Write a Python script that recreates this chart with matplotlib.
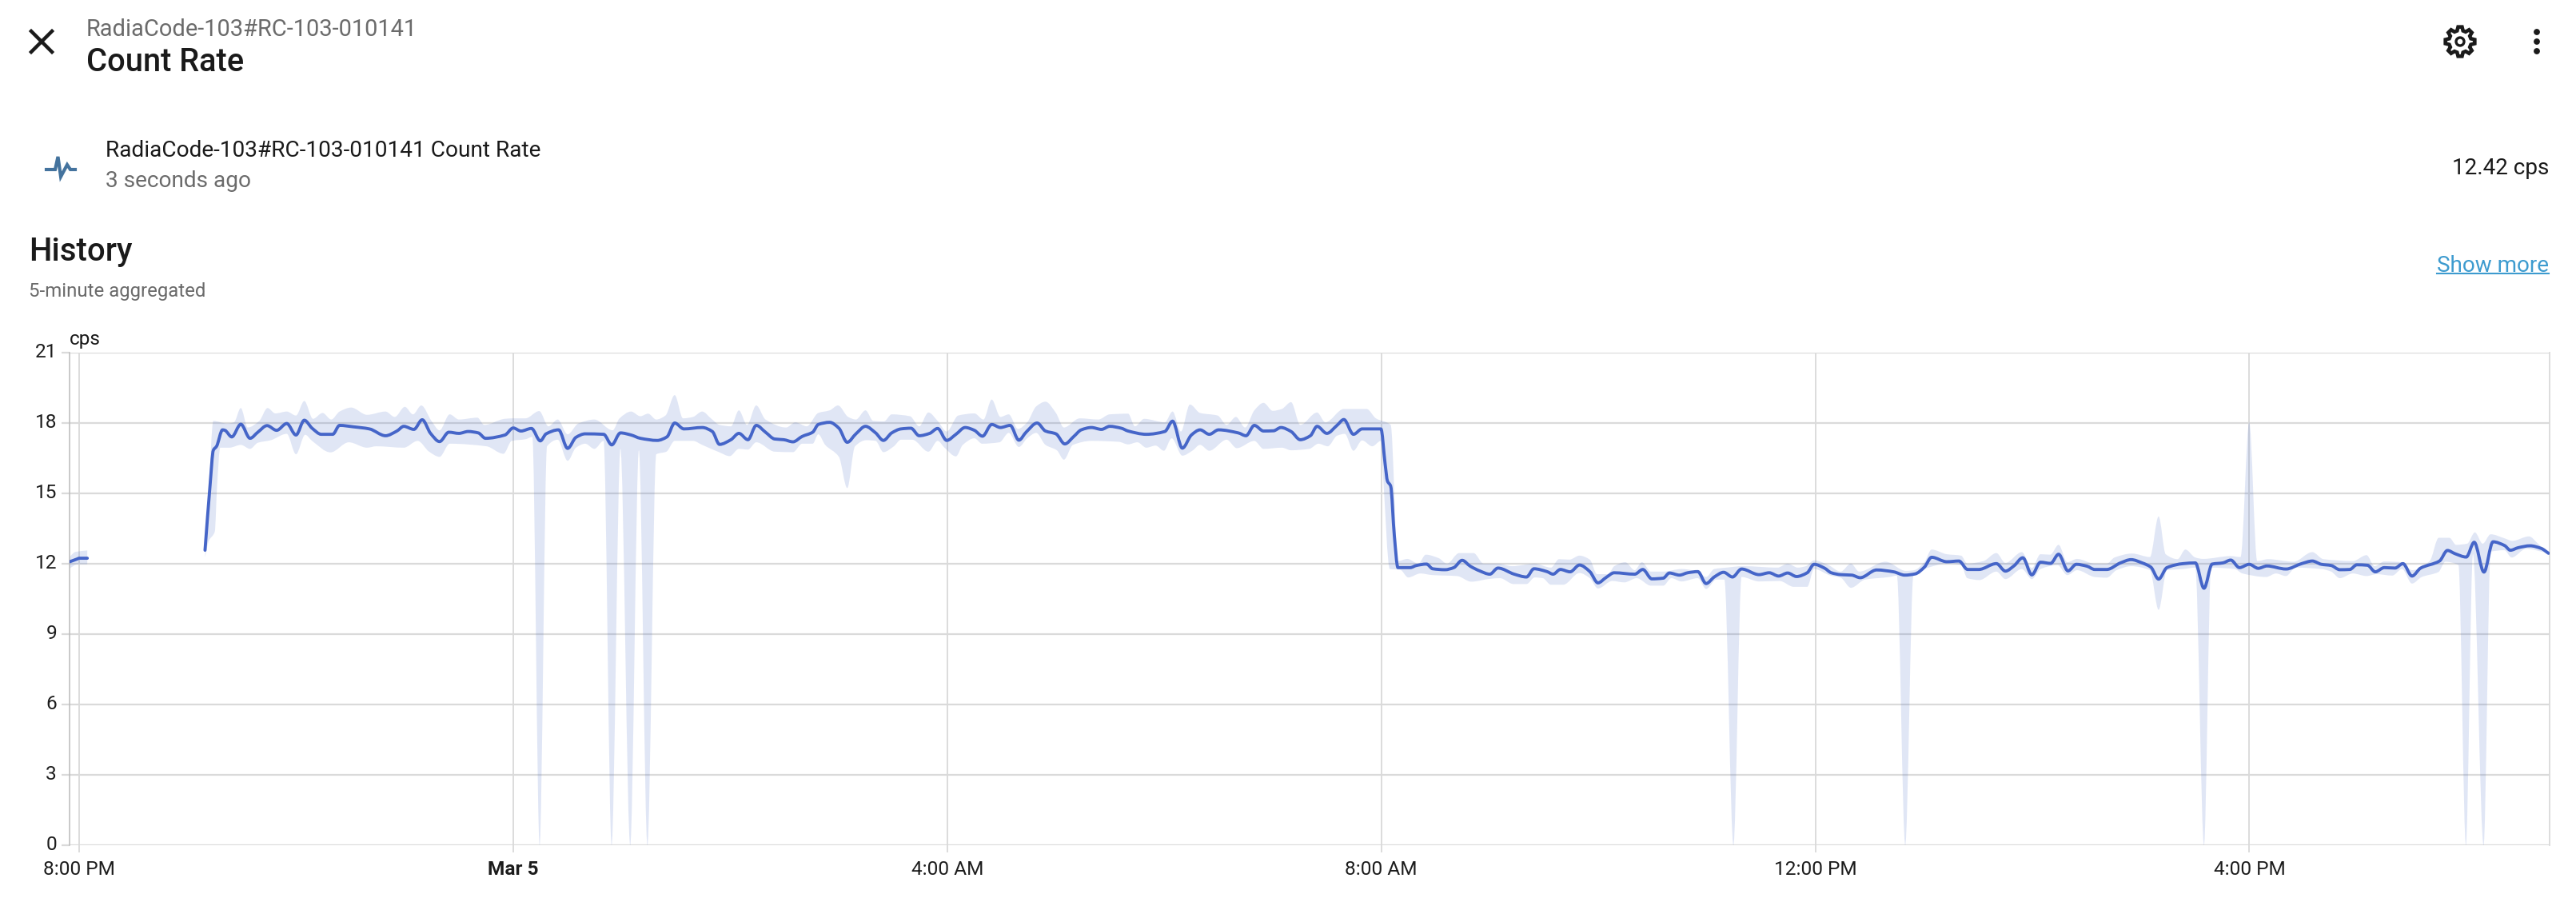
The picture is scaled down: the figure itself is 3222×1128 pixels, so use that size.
import numpy as np
import matplotlib
matplotlib.use("Agg")
import matplotlib.pyplot as plt
from matplotlib.path import Path
from matplotlib.patches import PathPatch, Circle
from matplotlib.transforms import ScaledTranslation

plt.rcParams['font.family'] = ['Roboto', 'DejaVu Sans']

# All times: minutes after 8:00 PM on Mar 4; all values: counts per second.
y_ticks = [0, 3, 6, 9, 12, 15, 18, 21]
x_ticks = [0, 240, 480, 720, 960, 1200]
x_labels = ['8:00 PM', 'Mar 5', '4:00 AM', '8:00 AM', '12:00 PM', '4:00 PM']

line_early = [(-5.2,12.08),(-1,12.2),(0,12.23),(4.5,12.23)]
upper_early = [(-5.2,12.3),(-2,12.5),(4.5,12.56)]
lower_early = [(-5.2,11.8),(-1,11.97),(4.5,11.97)]

line_night = [(69.6,12.57),(72.4,15.35),(74.2,16.83),(76,17),(79.3,17.7),(80.6,17.68),(84.4,17.4),(89.4,17.94),(94.5,17.34),(98.8,17.6),(103.9,17.88),(109.2,17.68),(114.8,17.97),(119.9,17.48),(124.5,18.11),(128.8,17.77),(133.9,17.51),(140.2,17.51),(144,17.89),(151.6,17.83),(160.5,17.74),(169.4,17.45),(175.7,17.65),(179.5,17.85),(185.1,17.72),(189.7,18.13),(194.3,17.55),(199.3,17.2),(204.4,17.6),(210,17.55),(215.1,17.63),(220.7,17.57),(224.7,17.34),(235.4,17.48),(240,17.78),(244.3,17.65),(250.1,17.76),(255,17.23),(258.2,17.53),(265.1,17.7),(270.1,16.91),(274.7,17.38),(279.8,17.53),(290,17.51),(294.5,17.06),(299.3,17.57),(305.2,17.48),(310.3,17.34),(319.6,17.25),(325,17.4),(329.3,17.99),(334.4,17.74),(344.5,17.8),(350.1,17.63)]
line_morning = [(354.1,17.08),(360.4,17.28),(364.8,17.55),(369.8,17.28),(374.4,17.89),(379.5,17.6),(384.6,17.31),(389.6,17.28),(394.7,17.19),(399.8,17.42),(405.6,17.6),(408.7,17.93),(415,18.02),(420.1,17.77),(424.7,17.17),(429.5,17.53),(434.8,17.85),(440.4,17.57),(444.7,17.25),(449.3,17.57),(454.4,17.74),(459.9,17.77),(464.5,17.45),(470.3,17.55),(474.7,17.76),(479.7,17.25),(484.8,17.51),(489.9,17.8),(495,17.68),(499.5,17.43),(504.6,17.93),(509.4,17.8),(514.8,17.89),(519.6,17.26),(523.6,17.6),(529.7,17.99),(534.3,17.65),(540.1,17.53),(545,17.1),(550,17.42),(554.1,17.7),(559.7,17.8),(565.3,17.72),(569.8,17.85),(576.2,17.77),(580,17.65),(590.1,17.51),(600.3,17.63),(604.6,18.07),(610,16.92),(615,17.48),(619.8,17.7),(624.9,17.51),(630,17.7),(640.9,17.57),(645.2,17.45),(649.8,17.89),(654.9,17.65),(660.4,17.66),(664.5,17.8),(670.1,17.63),(675.2,17.28),(680.8,17.45),(684.5,17.85),(689.9,17.55),(695.5,17.89),(699.3,18.14),(704.6,17.51),(709.4,17.74),(719.8,17.74),(722.1,16.26),(723.4,15.52),(725.2,15.3),(727.2,13.2)]
line_midday = [(729.2,11.83),(736,11.83),(739.4,11.92),(745,11.98),(748.4,11.78),(755.2,11.74),(760.1,11.83),(764.7,12.14),(769.2,11.89),(774.4,11.69),(780,11.55),(784.5,11.81),(793.5,11.55),(800.3,11.43),(804.4,11.78),(811.6,11.66),(815,11.55),(819,11.75),(824.4,11.65),(829.6,11.94),(835.3,11.66),(839.8,11.18),(844.3,11.41),(848.8,11.61),(860.1,11.55),(864.6,11.75),(869.6,11.35),(875.9,11.38),(879.3,11.6),(884.9,11.51),(889.4,11.61),(895,11.66),(899.6,11.15),(904.1,11.43),(909.3,11.63),(914.2,11.43),(919.2,11.77),(928.9,11.53),(934.5,11.61),(939.7,11.47),(944.7,11.6),(949.6,11.45),(955.5,11.61),(959.3,11.97),(965,11.81),(968.8,11.61),(974,11.53),(980.1,11.51),(984.8,11.4),(993.9,11.73),(1003.3,11.65),(1009.4,11.51),(1015.1,11.56),(1020.3,11.85),(1024.3,12.27),(1032.7,12.08)]
line_evening = [(1039.4,12.11),(1044.2,11.75),(1050.3,11.75),(1060.1,12),(1065.1,11.68),(1069.9,11.91),(1074.7,12.25),(1079.7,11.52),(1084.5,12.06),(1090.1,12.01),(1094.5,12.4),(1099.7,11.69),(1104.3,11.97),(1110.2,11.89),(1114.5,11.75),(1121.1,11.75),(1128.7,12.03),(1134.6,12.17),(1140.7,12.03),(1145.5,11.85),(1149.8,11.34),(1154.4,11.83),(1163.5,12),(1170.1,12.03),(1174.9,10.95),(1179.4,11.98),(1185.3,12.03),(1189.7,12.15),(1194.5,11.83),(1199.9,11.97),(1204.9,11.8),(1209.7,11.9),(1220.2,11.77),(1228.9,12),(1234.8,12.11),(1239.8,11.97),(1245.2,11.92),(1250,11.74),(1255.5,11.75),(1259.4,11.95),(1265.3,11.93),(1269.6,11.65),(1274.6,11.83),(1280.5,11.81),(1284.9,12),(1289.9,11.47),(1294.7,11.81),(1305.1,12.11),(1309.5,12.56),(1313.8,12.42),(1319.9,12.28),(1324.3,12.91),(1329.7,11.64),(1334.7,12.93),(1341.1,12.77),(1344.3,12.57),(1348.7,12.68),(1355.2,12.76),(1361.3,12.65),(1365.4,12.44)]

upper_night = [(69.6,12.26),(71.5,14.8),(74.2,18.08),(81.8,17.97),(85.6,18.02),(89.4,18.63),(93.2,17.8),(99.6,18.08),(104.2,18.63),(108.5,18.4),(114.8,18.48),(119.9,18.31),(124.5,18.93),(129.3,18.17),(134.6,18.42),(139.4,18.14),(144,18.48),(150.4,18.65),(159.2,18.34),(169.4,18.48),(174.5,18.25),(180.1,18.68),(184.6,18.36),(189.2,18.74),(194.8,18.08),(199.3,17.68),(204.9,18.36),(210,18.14),(220.2,18.22),(224,17.91),(235.4,18.17),(240.5,18.19),(246.8,18.19),(254.4,18.5),(259.5,17.85),(264.6,18.14),(270.1,17.51),(276,17.97),(284.9,18.14),(295,17.68),(298.8,18.19),(305.2,18.48),(310.3,18.28),(314.6,18.39),(319.1,18.14),(324.2,18.31),(329.3,19.18),(333.9,18.19),(339.4,18.25),(344.5,18.48),(349.6,18.17)]
upper_morning = [(354.1,17.91),(360.4,17.85),(364.8,18.53),(369.3,17.91),(374.4,18.74),(379.5,18.14),(390.9,17.8),(396,18.02),(402.3,17.85),(408.7,18.42),(415,18.53),(419.6,18.74),(425.2,18.25),(429.5,18.14),(434.8,18.53),(439.1,18.08),(445,18.06),(449.3,18.36),(459.4,18.28),(464.5,17.85),(469.6,18.44),(474.7,18.08),(479.7,17.63),(486.1,18.31),(495,18.4),(500,18.14),(504.6,18.99),(509.4,18.25),(514,18.36),(519.1,17.74),(524.2,18.02),(529.2,18.7),(534.3,18.9),(540.1,18.42),(544.5,17.8),(553.3,18.19),(563.5,18.14),(569.8,18.36),(580,18.39),(583.8,17.85),(588.9,18.17),(600.3,18.02),(604.6,18.48),(609.2,17.63),(614.2,18.78),(619.8,18.42),(629.5,18.31),(634.5,17.91),(639.6,18.25),(644.7,17.8),(649.8,18.53),(654.9,18.85),(660,18.51),(665,18.59),(670.1,18.88),(675.2,17.91),(684.5,18.44),(689.1,18.02),(699.3,18.59),(711.9,18.59),(717,18.19),(725.2,17.91)]
upper_midday = [(729.2,12.11),(734.4,12.2),(740.5,12),(744.6,12.38),(751.8,12.23),(756.3,12),(763.1,12.45),(771,12.45),(776.6,12),(784.5,12),(792.4,11.89),(804.8,12),(813.8,11.83),(818.3,12.19),(824,12.17),(829.6,12.34),(835.3,12.17),(839.3,11.55),(845.4,11.55),(848.8,11.89),(854.9,12.06),(860.1,11.72),(864.1,12.06),(869.1,11.66),(875.9,11.66),(886,11.77),(895,11.66),(899.6,11.43),(904.1,11.77),(910.9,11.83),(919.9,11.89),(939.1,11.83),(944.7,12),(950.3,11.83),(954.8,11.89),(959.3,12.14),(967.2,11.94),(974,11.66),(979.7,12),(984.2,11.66),(998.8,12.08),(1010.1,11.69),(1014.6,11.72),(1020.3,12.06),(1024.3,12.6),(1032.7,12.4),(1040.6,12.34),(1044,12),(1053,12.11)]
upper_evening = [(1060.1,12.45),(1065.1,12.03),(1074.2,12.49),(1079.7,11.81),(1084.5,12.4),(1089.9,12.38),(1094.5,12.8),(1099.3,12.06),(1104.7,12.2),(1114.5,12),(1121.1,12),(1125.4,12.26),(1135.2,12.43),(1145,12.28),(1149.8,14.01),(1153.7,12.4),(1160.3,12.19),(1164.6,12.6),(1170.1,12.26),(1174.4,12.2),(1189.7,12.32),(1195.1,12.28),(1199.9,18.02),(1204.3,12.11),(1210.4,12.19),(1224.5,12.08),(1234.8,12.49),(1240.9,12.19),(1257.2,12.11),(1264.8,12.36),(1269.2,11.89),(1274.6,12.09),(1284.4,12.06),(1289.9,11.72),(1299.7,12.11),(1304.7,13.1),(1310.6,13.1),(1314.3,12.8),(1320.4,12.85),(1324.7,13.33),(1329,12.85),(1333.4,13.25),(1341,13.08),(1345.4,12.97),(1354.6,13.16),(1359.6,12.85),(1365.4,12.44)]

lower_night = [(69.6,12.26),(71.7,12.97),(75,13.36),(76.3,15.35),(78,16.94),(83.1,16.94),(89.4,17.06),(94.5,16.89),(98.8,17.15),(106,17.26),(114.8,17.53),(119.9,16.66),(125,17.49),(128.8,17.23),(139,16.74),(149.1,17.17),(159.2,16.94),(164.3,17),(179.5,16.94),(187.2,17.23),(193.5,16.77),(199.3,16.55),(204.9,17.11),(225.2,17),(234.6,16.68),(239.2,17.23),(246.8,17.3),(250.6,17.4),(254.6,0),(258.7,17),(264.6,17.28),(270.1,16.38),(274.7,16.94),(279.8,17.11),(284.9,16.89),(290,17.23),(294.4,0),(299.3,16.89),(304.7,0),(309.5,16.83),(314.2,0),(319.1,16.66),(324.7,16.77),(329.3,17.23),(339.4,17.23),(344.5,17.06)]
lower_morning = [(354.1,16.74),(359.7,16.58),(364.8,16.89),(369.8,16.86),(374.4,17.17),(384.6,16.77),(394.7,16.75),(399.8,17.11),(405.6,17.11),(408.7,17.51),(412.5,17.06),(420.1,16.55),(424.7,15.22),(429,17),(435.3,17.26),(440.4,17.23),(444.7,16.75),(450.5,17),(454.4,17.28),(460.7,17.28),(469.6,16.77),(474.7,17.23),(478.5,16.94),(484.8,16.57),(488.6,17.06),(495,17.34),(499.3,17.11),(508.9,17.17),(514,17.57),(519.6,16.97),(524.2,17.34),(529.2,17.57),(534.3,17.06),(540.6,16.83),(544.5,16.43),(549.5,17.06),(559.7,17.23),(574.9,17.19),(580,17.08),(585.1,17.17),(590.1,16.94),(595.2,17.03),(599.8,16.81),(604.1,17.34),(610,16.6),(615.5,16.81),(619.8,17.06),(624.9,16.81),(634.5,17.28),(640.1,16.92),(649.8,17.23),(654.9,16.89),(665,16.94),(670.1,16.83),(680.2,16.89),(685.3,17.11),(690.4,17),(695.5,17.45),(699.8,17.53),(704.6,16.81),(709.4,17.25),(715,17),(719.8,17.23),(720.8,16)]
lower_midday = [(724.7,11.77),(730.4,11.74),(734.9,11.41),(741.6,11.58),(748.4,11.51),(761.9,11.47),(769.8,11.23),(780,11.35),(785.6,11.38),(793.1,11.13),(800.3,11.13),(804.8,11.41),(809.3,11.38),(813.8,11.1),(820.6,11.1),(829.6,11.6),(835.3,11.38),(839.8,10.94),(847.7,11.26),(854.4,11.2),(861.2,11.38),(869.1,11.06),(875.9,11.06),(880.4,11.38),(886,11.24),(895,11.38),(899.6,10.92),(905.2,11.32),(909.7,11.32),(914.7,0),(919.2,11.43),(928.9,11.24),(940.2,11.26),(948.1,11.01),(955.5,11.01),(959.3,11.77),(968.4,11.49),(974,11.4),(979.7,10.97),(987.5,11.32),(1001.1,11.43),(1005.1,11.49),(1009.7,0),(1014.2,11.49),(1020.3,11.77),(1032.7,12),(1040.6,11.94),(1044,11.38),(1050.7,11.3)]
lower_evening = [(1060.1,11.66),(1065.1,11.34),(1074.2,11.77),(1079.7,11.34),(1084.5,11.77),(1093.9,11.94),(1099.3,11.51),(1104.7,11.72),(1114.5,11.43),(1121.1,11.4),(1126.5,11.72),(1134.6,11.89),(1145,11.72),(1149.8,10.03),(1154.4,11.72),(1163.5,11.77),(1170.1,11.83),(1174.9,0),(1178.8,11.83),(1191.9,11.77),(1196.2,11.58),(1209.3,11.43),(1214.7,11.58),(1220.2,11.47),(1225.6,11.83),(1239.8,11.77),(1245.2,11.66),(1250,11.38),(1257.2,11.58),(1264.8,11.47),(1270.3,11.55),(1279,11.49),(1284.4,11.77),(1289.9,11.15),(1295.3,11.43),(1304.5,11.64),(1308.4,12.08),(1315.6,11.94),(1319.7,0),(1323.6,12.4),(1329.5,0),(1333.4,12.51),(1341,12.57),(1345,12.26),(1353,12.63),(1365.4,12.44)]


def bezier_verts(points):
    """Vertices of a monotone cubic curve through the points."""
    x, y = np.array(points, float).T
    h = np.diff(x)
    s = np.diff(y) / h
    m = np.zeros_like(x)
    m[0], m[-1] = s[0], s[-1]
    for i in range(1, len(x) - 1):
        if s[i - 1] * s[i] > 0:
            m[i] = 2 * s[i - 1] * s[i] / (s[i - 1] + s[i])
    v = [(x[0], y[0])]
    for i in range(len(h)):
        v.append((x[i] + h[i] / 3, y[i] + m[i] * h[i] / 3))
        v.append((x[i + 1] - h[i] / 3, y[i + 1] - m[i + 1] * h[i] / 3))
        v.append((x[i + 1], y[i + 1]))
    return v


def line_path(points):
    v = bezier_verts(points)
    return Path(v, [Path.MOVETO] + [Path.CURVE4] * (len(v) - 1))


def band_path(upper, lower):
    u = bezier_verts(upper)
    l = bezier_verts(lower)[::-1]
    verts = u + l + [u[0]]
    codes = [Path.MOVETO] + [Path.CURVE4] * (len(u) - 1) + [Path.LINETO] + [Path.CURVE4] * (len(l) - 1) + [Path.CLOSEPOLY]
    return Path(verts, codes)


W, H = 3222, 1128
fig = plt.figure(figsize=(W / 100, H / 100), dpi=100, facecolor='white')
L, R, T, B = 87, 3189, 440.7, 1057
ax = fig.add_axes([L / W, 1 - B / H, (R - L) / W, (B - T) / H])
ax.set_xlim(-5.3, 1366)
ax.set_ylim(0, 21)

GRID = '#dadada'
ax.set_axisbelow(True)
ax.yaxis.grid(True, color=GRID, lw=1.6)
ax.xaxis.grid(True, color='#d6d6d6', lw=1.2)
ax.set_xticks(x_ticks)
ax.set_xticklabels(x_labels, fontsize=17.6, color='#1c1c1c')
ax.get_xticklabels()[1].set_fontweight('bold')
ax.set_yticks(y_ticks)
ax.set_yticklabels([str(v) for v in y_ticks], fontsize=17.6, color='#1c1c1c')
ax.tick_params(axis='x', length=6.5, width=1.2, color='#d6d6d6', pad=7)
ax.tick_params(axis='y', length=7.5, width=1.6, color=GRID, pad=4)
for lab in ax.get_yticklabels():
    lab.set_transform(lab.get_transform() + ScaledTranslation(0, 0.03, fig.dpi_scale_trans))
for side in ('top', 'bottom'):
    ax.spines[side].set_visible(False)
ax.spines['left'].set_color('#bbbbbb')
ax.spines['left'].set_linewidth(1.1)
ax.spines['right'].set_color(GRID)
ax.spines['right'].set_linewidth(1.3)

BLUE = '#4565c8'
upper_all = upper_night + upper_morning + upper_midday + upper_evening
lower_all = lower_night + lower_morning + lower_midday + lower_evening
for up, lo in ((upper_early, lower_early), (upper_all, lower_all)):
    ax.add_patch(PathPatch(band_path(up, lo), facecolor='#4a6cc8', alpha=0.17, edgecolor='none', zorder=2))
for seg in (line_early, line_night + line_morning + line_midday + line_evening):
    ax.add_patch(PathPatch(line_path(seg), facecolor='none', edgecolor=BLUE, lw=2.8,
                           capstyle='round', joinstyle='round', zorder=3))

# Page chrome, placed in pixel coordinates of the screenshot.
ui = fig.add_axes([0, 0, 1, 1], facecolor='none')
ui.set_xlim(0, W)
ui.set_ylim(H, 0)
ui.axis('off')


def label(x, y, s, size, color='#1a1a1a', ha='left', **kw):
    ui.text(x, y, s, fontsize=size, color=color, ha=ha, va='center_baseline', **kw)


GREY = '#6b6b6b'
label(108, 34, 'RadiaCode-103#RC-103-010141', 20.85, GREY)
label(108, 74, 'Count Rate', 28.7, weight='medium')
label(131.5, 185, 'RadiaCode-103#RC-103-010141 Count Rate', 20.2)
label(131.5, 223, '3 seconds ago', 20.2, GREY)
label(36, 311, 'History', 28.9, weight='medium')
label(36, 362, '5-minute aggregated', 17.3, GREY)
label(3188, 207, '12.42 cps', 20.1, ha='right')
label(3188, 330, 'Show more', 20.1, '#3d9bcf', ha='right')
ui.plot([3048, 3188], [342, 342], color='#3d9bcf', lw=1.5)
label(87, 422, 'cps', 17.6)

# close icon
ui.plot([39, 65], [39, 65], color='#1a1a1a', lw=3.2)
ui.plot([65, 39], [39, 65], color='#1a1a1a', lw=3.2)
# sensor icon
ui.plot([58, 69, 72.5, 76, 84, 88, 94], [212, 212, 196, 221, 206, 212, 212],
        color='#44739e', lw=3, solid_joinstyle='miter')
# gear icon
n = 8
angles, radii = [], []
for k in range(n):
    a0 = 2 * np.pi * k / n - np.pi / 2
    w = 2 * np.pi / n
    angles += [a0 - 0.17 * w, a0 + 0.17 * w, a0 + 0.34 * w, a0 + 0.66 * w]
    radii += [18.5, 18.5, 14, 14]
angles, radii = np.array(angles), np.array(radii)
ui.fill(3077 + radii * np.cos(angles), 52 + radii * np.sin(angles),
        facecolor='white', edgecolor='#1a1a1a', lw=3.3, joinstyle='miter')
ui.add_patch(Circle((3077, 52), 5, facecolor='white', edgecolor='#1a1a1a', lw=2.4))
# overflow icon
for cy in (40, 52, 64):
    ui.add_patch(Circle((3173, cy), 3.9, facecolor='#1a1a1a', edgecolor='none'))

fig.savefig('out.png', dpi=100)
